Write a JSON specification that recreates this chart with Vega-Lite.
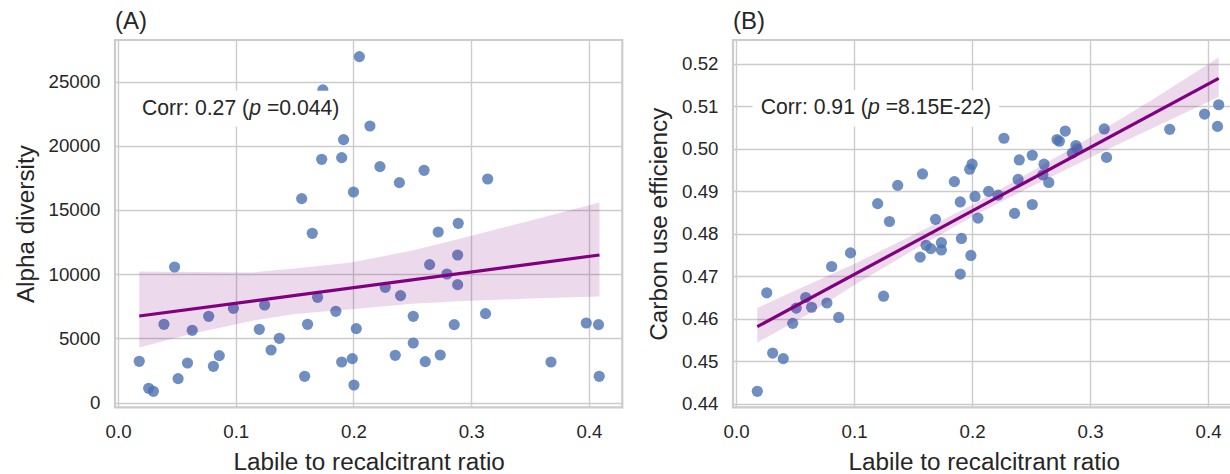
{
  "$schema": "https://vega.github.io/schema/vega-lite/v6.json",
  "background": "white",
  "padding": {"left": 12, "top": 8, "right": 0, "bottom": 0},
  "spacing": 22,
  "config": {
    "font": "Liberation Sans",
    "view": {"stroke": "#cccccc", "strokeWidth": 2.2},
    "axis": {
      "grid": true, "gridColor": "#cccccc", "gridWidth": 1.4,
      "domain": false, "ticks": false,
      "labelFont": "Liberation Sans", "labelFontSize": 18.7, "labelColor": "#262626", "labelPadding": 15,
      "titleFont": "Liberation Sans", "titleFontSize": 24.3, "titleFontWeight": "normal", "titleColor": "#262626", "titlePadding": 10
    }
  },
  "datasets": {
    "a_pts": [
      {"ratio": 0.018, "alpha": 3216}, {"ratio": 0.026, "alpha": 1114}, {"ratio": 0.030, "alpha": 880},
      {"ratio": 0.039, "alpha": 6098}, {"ratio": 0.048, "alpha": 10561}, {"ratio": 0.051, "alpha": 1869},
      {"ratio": 0.059, "alpha": 3084}, {"ratio": 0.063, "alpha": 5631}, {"ratio": 0.077, "alpha": 6721},
      {"ratio": 0.081, "alpha": 2827}, {"ratio": 0.086, "alpha": 3660}, {"ratio": 0.098, "alpha": 7344},
      {"ratio": 0.120, "alpha": 5709}, {"ratio": 0.1245, "alpha": 7601}, {"ratio": 0.130, "alpha": 4097},
      {"ratio": 0.137, "alpha": 5008}, {"ratio": 0.1585, "alpha": 2048}, {"ratio": 0.156, "alpha": 15888},
      {"ratio": 0.161, "alpha": 6098}, {"ratio": 0.165, "alpha": 13185}, {"ratio": 0.1695, "alpha": 8201},
      {"ratio": 0.174, "alpha": 24350}, {"ratio": 0.173, "alpha": 18948}, {"ratio": 0.185, "alpha": 7110},
      {"ratio": 0.190, "alpha": 19080}, {"ratio": 0.1916, "alpha": 20483}, {"ratio": 0.190, "alpha": 3162},
      {"ratio": 0.199, "alpha": 3427}, {"ratio": 0.200, "alpha": 16402}, {"ratio": 0.2004, "alpha": 1371},
      {"ratio": 0.2024, "alpha": 5763}, {"ratio": 0.205, "alpha": 26946}, {"ratio": 0.214, "alpha": 21542},
      {"ratio": 0.2225, "alpha": 18380}, {"ratio": 0.227, "alpha": 8979}, {"ratio": 0.2355, "alpha": 3684},
      {"ratio": 0.239, "alpha": 17134}, {"ratio": 0.240, "alpha": 8333}, {"ratio": 0.2508, "alpha": 4642},
      {"ratio": 0.2508, "alpha": 6721}, {"ratio": 0.260, "alpha": 18092}, {"ratio": 0.261, "alpha": 3193},
      {"ratio": 0.2647, "alpha": 10747}, {"ratio": 0.272, "alpha": 13286}, {"ratio": 0.2737, "alpha": 3707},
      {"ratio": 0.2794, "alpha": 10015}, {"ratio": 0.2856, "alpha": 6075}, {"ratio": 0.2885, "alpha": 11495},
      {"ratio": 0.289, "alpha": 13964}, {"ratio": 0.2885, "alpha": 9190}, {"ratio": 0.314, "alpha": 17414},
      {"ratio": 0.3122, "alpha": 6931}, {"ratio": 0.3678, "alpha": 3162}, {"ratio": 0.3978, "alpha": 6199},
      {"ratio": 0.4082, "alpha": 6075}, {"ratio": 0.4088, "alpha": 2048}
    ],
    "a_band": [
      {"ratio": 0.018, "lo": 4283, "hi": 10202}, {"ratio": 0.06, "lo": 5300, "hi": 10180},
      {"ratio": 0.113, "lo": 6355, "hi": 10124}, {"ratio": 0.15, "lo": 6900, "hi": 10450},
      {"ratio": 0.198, "lo": 7266, "hi": 10903}, {"ratio": 0.25, "lo": 7700, "hi": 11850},
      {"ratio": 0.2888, "lo": 7900, "hi": 12718}, {"ratio": 0.35, "lo": 8100, "hi": 14170},
      {"ratio": 0.409, "lo": 8255, "hi": 15576}
    ],
    "a_line": [{"ratio": 0.018, "alpha": 6745}, {"ratio": 0.409, "alpha": 11495}],
    "a_box": [{"x1": 0.0134, "x2": 0.1947, "y1": 21495, "y2": 24283}],
    "a_note": [{"ratio": 0.0203, "alpha": 22889, "pre": "Corr: 0.27 (", "p": "p", "post": "=0.044)"}],
    "b_pts": [
      {"ratio": 0.018, "cue": 0.4429}, {"ratio": 0.026, "cue": 0.4661}, {"ratio": 0.031, "cue": 0.4519},
      {"ratio": 0.040, "cue": 0.4506}, {"ratio": 0.048, "cue": 0.4589}, {"ratio": 0.051, "cue": 0.4625},
      {"ratio": 0.059, "cue": 0.4650}, {"ratio": 0.064, "cue": 0.4627}, {"ratio": 0.077, "cue": 0.4637},
      {"ratio": 0.081, "cue": 0.4723}, {"ratio": 0.087, "cue": 0.4603}, {"ratio": 0.097, "cue": 0.4755},
      {"ratio": 0.120, "cue": 0.4871}, {"ratio": 0.125, "cue": 0.4653}, {"ratio": 0.130, "cue": 0.4829},
      {"ratio": 0.137, "cue": 0.4914}, {"ratio": 0.156, "cue": 0.4745}, {"ratio": 0.158, "cue": 0.4941},
      {"ratio": 0.161, "cue": 0.4773}, {"ratio": 0.165, "cue": 0.4765}, {"ratio": 0.169, "cue": 0.4834},
      {"ratio": 0.174, "cue": 0.4779}, {"ratio": 0.174, "cue": 0.4762}, {"ratio": 0.185, "cue": 0.4923},
      {"ratio": 0.190, "cue": 0.4875}, {"ratio": 0.190, "cue": 0.4705}, {"ratio": 0.191, "cue": 0.4789},
      {"ratio": 0.198, "cue": 0.4952}, {"ratio": 0.199, "cue": 0.4749}, {"ratio": 0.200, "cue": 0.4964},
      {"ratio": 0.2025, "cue": 0.4888}, {"ratio": 0.205, "cue": 0.4837}, {"ratio": 0.214, "cue": 0.4900},
      {"ratio": 0.222, "cue": 0.4891}, {"ratio": 0.227, "cue": 0.5025}, {"ratio": 0.236, "cue": 0.4848},
      {"ratio": 0.239, "cue": 0.4928}, {"ratio": 0.240, "cue": 0.4974}, {"ratio": 0.251, "cue": 0.4985},
      {"ratio": 0.251, "cue": 0.4869}, {"ratio": 0.260, "cue": 0.4939}, {"ratio": 0.261, "cue": 0.4964},
      {"ratio": 0.265, "cue": 0.4921}, {"ratio": 0.272, "cue": 0.5022}, {"ratio": 0.274, "cue": 0.5018},
      {"ratio": 0.279, "cue": 0.5042}, {"ratio": 0.285, "cue": 0.4990}, {"ratio": 0.288, "cue": 0.5008},
      {"ratio": 0.289, "cue": 0.5001}, {"ratio": 0.312, "cue": 0.5047}, {"ratio": 0.314, "cue": 0.4980},
      {"ratio": 0.3675, "cue": 0.5046}, {"ratio": 0.397, "cue": 0.5082}, {"ratio": 0.408, "cue": 0.5053},
      {"ratio": 0.409, "cue": 0.5104}
    ],
    "b_band": [
      {"ratio": 0.018, "lo": 0.45437, "hi": 0.46252}, {"ratio": 0.06, "lo": 0.4609, "hi": 0.4679},
      {"ratio": 0.1, "lo": 0.4679, "hi": 0.4729}, {"ratio": 0.15, "lo": 0.4761, "hi": 0.4797},
      {"ratio": 0.2, "lo": 0.4840, "hi": 0.4868}, {"ratio": 0.25, "lo": 0.4911, "hi": 0.4946},
      {"ratio": 0.3, "lo": 0.4979, "hi": 0.5027}, {"ratio": 0.35, "lo": 0.5045, "hi": 0.5111},
      {"ratio": 0.409, "lo": 0.51223, "hi": 0.52151}
    ],
    "b_line": [{"ratio": 0.018, "cue": 0.45814}, {"ratio": 0.409, "cue": 0.51663}],
    "b_box": [{"x1": 0.0139, "x2": 0.2229, "y1": 0.50525, "y2": 0.51381}],
    "b_note": [{"ratio": 0.0209, "cue": 0.50952, "pre": "Corr: 0.91 (", "p": "p", "post": "=8.15E-22)"}]
  },
  "hconcat": [
    {
      "width": 507.3,
      "height": 367.3,
      "title": {"text": "(A)", "anchor": "start", "frame": "group", "fontSize": 24, "fontWeight": "normal", "color": "#262626", "font": "Liberation Sans", "offset": 6},
      "encoding": {
        "x": {"type": "quantitative", "title": "Labile to recalcitrant ratio",
              "scale": {"domain": [-0.0026, 0.4284], "nice": false, "zero": false},
              "axis": {"values": [0, 0.1, 0.2, 0.3, 0.4], "format": ".1f"}},
        "y": {"type": "quantitative", "title": "Alpha diversity",
              "scale": {"domain": [-366, 28240], "nice": false, "zero": false},
              "axis": {"values": [0, 5000, 10000, 15000, 20000, 25000], "format": "d"}}
      },
      "layer": [
        {"data": {"name": "a_pts"}, "mark": {"type": "circle", "size": 125, "color": "#4C72B0", "opacity": 0.8},
         "encoding": {"x": {"field": "ratio"}, "y": {"field": "alpha"}}},
        {"data": {"name": "a_band"}, "mark": {"type": "area", "color": "#800080", "opacity": 0.15},
         "encoding": {"x": {"field": "ratio"}, "y": {"field": "lo"}, "y2": {"field": "hi"}}},
        {"data": {"name": "a_line"}, "mark": {"type": "line", "color": "#800080", "strokeWidth": 3.2},
         "encoding": {"x": {"field": "ratio"}, "y": {"field": "alpha"}}},
        {"data": {"name": "a_box"}, "mark": {"type": "rect", "color": "white", "opacity": 1},
         "encoding": {"x": {"field": "x1"}, "x2": {"field": "x2"}, "y": {"field": "y1"}, "y2": {"field": "y2"}}},
        {"data": {"name": "a_note"}, "mark": {"type": "text", "align": "left", "baseline": "middle", "fontSize": 21.2, "color": "#262626", "font": "Liberation Sans"},
         "encoding": {"x": {"field": "ratio"}, "y": {"field": "alpha"}, "text": {"field": "pre"}}},
        {"data": {"name": "a_note"}, "mark": {"type": "text", "align": "left", "baseline": "middle", "fontSize": 21.2, "color": "#262626", "font": "Liberation Sans", "fontStyle": "italic", "dx": 107.2},
         "encoding": {"x": {"field": "ratio"}, "y": {"field": "alpha"}, "text": {"field": "p"}}},
        {"data": {"name": "a_note"}, "mark": {"type": "text", "align": "left", "baseline": "middle", "fontSize": 21.2, "color": "#262626", "font": "Liberation Sans", "dx": 125.0},
         "encoding": {"x": {"field": "ratio"}, "y": {"field": "alpha"}, "text": {"field": "post"}}}
      ]
    },
    {
      "width": 501.5,
      "height": 367.3,
      "title": {"text": "(B)", "anchor": "start", "frame": "group", "fontSize": 24, "fontWeight": "normal", "color": "#262626", "font": "Liberation Sans", "offset": 6},
      "encoding": {
        "x": {"type": "quantitative", "title": "Labile to recalcitrant ratio",
              "scale": {"domain": [-0.0026, 0.4224], "nice": false, "zero": false},
              "axis": {"values": [0, 0.1, 0.2, 0.3, 0.4], "format": ".1f"}},
        "y": {"type": "quantitative", "title": "Carbon use efficiency",
              "scale": {"domain": [0.43913, 0.52565], "nice": false, "zero": false},
              "axis": {"values": [0.44, 0.45, 0.46, 0.47, 0.48, 0.49, 0.5, 0.51, 0.52], "format": ".2f"}}
      },
      "layer": [
        {"data": {"name": "b_pts"}, "mark": {"type": "circle", "size": 125, "color": "#4C72B0", "opacity": 0.8},
         "encoding": {"x": {"field": "ratio"}, "y": {"field": "cue"}}},
        {"data": {"name": "b_band"}, "mark": {"type": "area", "color": "#800080", "opacity": 0.15},
         "encoding": {"x": {"field": "ratio"}, "y": {"field": "lo"}, "y2": {"field": "hi"}}},
        {"data": {"name": "b_line"}, "mark": {"type": "line", "color": "#800080", "strokeWidth": 3.2},
         "encoding": {"x": {"field": "ratio"}, "y": {"field": "cue"}}},
        {"data": {"name": "b_box"}, "mark": {"type": "rect", "color": "white", "opacity": 1},
         "encoding": {"x": {"field": "x1"}, "x2": {"field": "x2"}, "y": {"field": "y1"}, "y2": {"field": "y2"}}},
        {"data": {"name": "b_note"}, "mark": {"type": "text", "align": "left", "baseline": "middle", "fontSize": 21.2, "color": "#262626", "font": "Liberation Sans"},
         "encoding": {"x": {"field": "ratio"}, "y": {"field": "cue"}, "text": {"field": "pre"}}},
        {"data": {"name": "b_note"}, "mark": {"type": "text", "align": "left", "baseline": "middle", "fontSize": 21.2, "color": "#262626", "font": "Liberation Sans", "fontStyle": "italic", "dx": 107.2},
         "encoding": {"x": {"field": "ratio"}, "y": {"field": "cue"}, "text": {"field": "p"}}},
        {"data": {"name": "b_note"}, "mark": {"type": "text", "align": "left", "baseline": "middle", "fontSize": 21.2, "color": "#262626", "font": "Liberation Sans", "dx": 125.0},
         "encoding": {"x": {"field": "ratio"}, "y": {"field": "cue"}, "text": {"field": "post"}}}
      ]
    }
  ]
}
